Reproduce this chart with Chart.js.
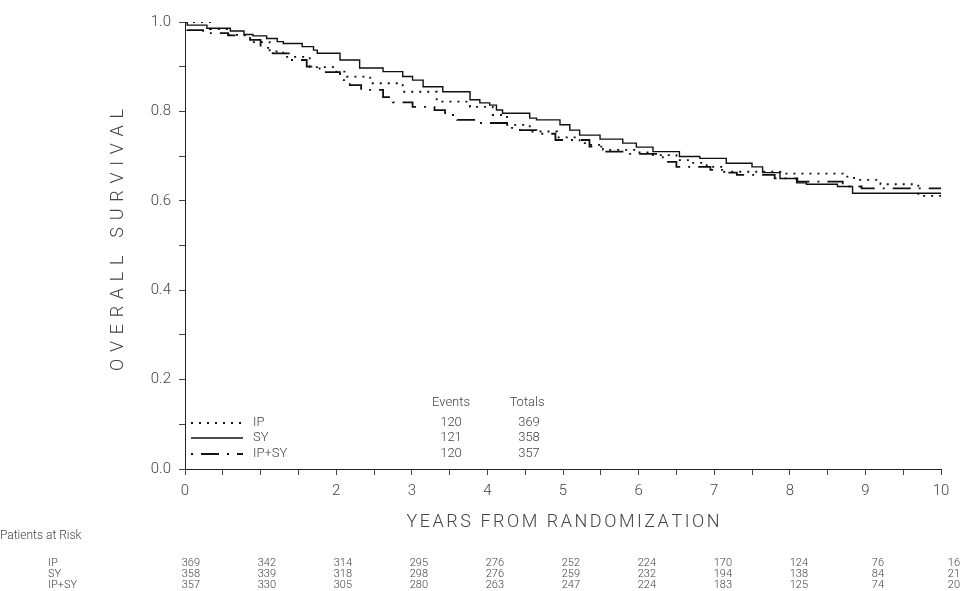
<!DOCTYPE html>
<html>
<head>
<meta charset="utf-8">
<script src="https://cdn.jsdelivr.net/npm/chart.js@4/dist/chart.umd.min.js"></script>
<style>
  html, body { margin: 0; padding: 0; background: #fff; }
  #wrap { width: 968px; height: 591px; }
</style>
</head>
<body>
<div id="wrap"><canvas id="survChart" width="968" height="591"></canvas></div>
<script>
// Kaplan-Meier curves (years, survival)
const ipTime = [0, 0.33, 0.57, 0.86, 1.12, 1.3, 1.65, 1.96, 2.14, 2.45, 2.88, 3.33, 3.77, 4.07, 4.26, 4.56, 4.92, 5.22, 5.35, 5.53, 5.97, 6.19, 6.5, 6.67, 6.9, 7.13, 7.9, 8.7, 8.85, 9.2, 9.7, 10]
const ipSurv = [1.0, 0.984, 0.971, 0.955, 0.934, 0.922, 0.899, 0.889, 0.878, 0.863, 0.844, 0.822, 0.81, 0.792, 0.77, 0.755, 0.742, 0.729, 0.725, 0.714, 0.708, 0.702, 0.691, 0.685, 0.676, 0.665, 0.661, 0.654, 0.647, 0.637, 0.611, 0.611]

const syTime = [0, 0.03, 0.29, 0.6, 0.78, 0.9, 1.08, 1.22, 1.3, 1.55, 1.7, 1.75, 2.05, 2.31, 2.62, 2.88, 3.01, 3.15, 3.41, 3.77, 3.9, 4.03, 4.12, 4.2, 4.56, 4.65, 4.96, 5.09, 5.22, 5.49, 5.79, 5.97, 6.19, 6.54, 6.81, 7.16, 7.5, 7.64, 7.87, 8.09, 8.22, 8.63, 8.83, 10]
const sySurv = [1.0, 0.993, 0.986, 0.98, 0.972, 0.969, 0.963, 0.956, 0.952, 0.945, 0.937, 0.93, 0.915, 0.897, 0.889, 0.878, 0.87, 0.855, 0.844, 0.826, 0.819, 0.814, 0.803, 0.796, 0.785, 0.781, 0.77, 0.758, 0.747, 0.738, 0.729, 0.72, 0.71, 0.699, 0.695, 0.684, 0.676, 0.663, 0.65, 0.64, 0.637, 0.632, 0.617, 0.617]

const ipsyTime = [0, 0.03, 0.24, 0.57, 0.86, 1.0, 1.16, 1.39, 1.61, 1.78, 2.05, 2.18, 2.33, 2.62, 2.75, 3.01, 3.3, 3.44, 3.6, 3.88, 4.3, 4.43, 4.65, 4.9, 5.35, 5.53, 5.8, 6.32, 6.5, 6.95, 7.13, 7.3, 7.8, 8.1, 8.7, 8.95, 10]
const ipsySurv = [1.0, 0.982, 0.975, 0.97, 0.96, 0.942, 0.93, 0.915, 0.9, 0.888, 0.87, 0.859, 0.848, 0.832, 0.82, 0.81, 0.803, 0.792, 0.781, 0.774, 0.763, 0.758, 0.75, 0.736, 0.721, 0.71, 0.705, 0.687, 0.676, 0.669, 0.663, 0.658, 0.65, 0.643, 0.632, 0.628, 0.628]

const groups = ['IP', 'SY', 'IP+SY']
const events = [120, 121, 120]
const totals = [369, 358, 357]

// patients at risk, one column per year 0..10
const riskYears = [0, 1, 2, 3, 4, 5, 6, 7, 8, 9, 10]
const riskIP = [369, 342, 314, 295, 276, 252, 224, 170, 124, 76, 16]
const riskSY = [358, 339, 318, 298, 276, 259, 232, 194, 138, 84, 21]
const riskIPSY = [357, 330, 305, 280, 263, 247, 224, 183, 125, 74, 20]

const X_TITLE = 'YEARS FROM RANDOMIZATION'
const Y_TITLE = 'OVERALL SURVIVAL'

const FONT = '"Roboto", "DejaVu Sans", sans-serif'
const INK = '#444'
const DASHES = [[2, 6], [], [2, 8, 18, 8]]
const WIDTHS = [1.8, 1.4, 1.8]

function pts(t, s) {
    return t.map((v, i) => ({ x: v, y: s[i] }))
}

// draws a string with extra letter spacing so that it spans `len` px
function spacedText(ctx, text, cx, cy, len) {
    const w = [...text].map(c => ctx.measureText(c).width)
    const sum = w.reduce((a, b) => a + b, 0)
    const gap = (len - sum) / (text.length - 1)
    let x = cx - len / 2
    ctx.textAlign = 'left'
    ctx.textBaseline = 'middle'
    ;[...text].forEach((c, i) => {
        ctx.fillText(c, x, cy)
        x += w[i] + gap
    })
}

const extras = {
    id: 'extras',
    afterDraw(chart) {
        const ctx = chart.ctx
        const xs = chart.scales.x
        const area = chart.chartArea
        ctx.save()
        ctx.fillStyle = INK

        // axis titles
        ctx.font = '300 18px ' + FONT
        spacedText(ctx, X_TITLE, 563, 522, 313)
        ctx.save()
        ctx.translate(118, 240)
        ctx.rotate(-Math.PI / 2)
        spacedText(ctx, Y_TITLE, 0, 0, 262)
        ctx.restore()

        // legend with events / totals
        const rowsY = [423, 438, 454]
        ctx.font = '300 13px ' + FONT
        ctx.textBaseline = 'middle'
        ctx.textAlign = 'center'
        ctx.fillText('Events', 451, 403)
        ctx.fillText('Totals', 527, 403)
        groups.forEach((g, i) => {
            const y = rowsY[i]
            ctx.save()
            ctx.strokeStyle = '#111'
            ctx.lineWidth = WIDTHS[i]
            ctx.setLineDash(DASHES[i])
            ctx.beginPath()
            ctx.moveTo(area.left + 6, y)
            ctx.lineTo(area.left + 58, y)
            ctx.stroke()
            ctx.restore()
            ctx.textAlign = 'left'
            ctx.fillText(g, area.left + 68, y)
            ctx.textAlign = 'center'
            ctx.fillText(String(events[i]), 451, y)
            ctx.fillText(String(totals[i]), 529, y)
        })

        // patients at risk table
        ctx.font = '300 12px ' + FONT
        ctx.textAlign = 'left'
        ctx.fillText('Patients at Risk', 0, 536)
        const tableRows = [riskIP, riskSY, riskIPSY]
        const tableY = [563, 574, 585]
        ctx.font = '300 11px ' + FONT
        tableRows.forEach((row, r) => {
            ctx.textAlign = 'left'
            ctx.fillText(groups[r], 48, tableY[r])
            ctx.textAlign = 'right'
            row.forEach((n, i) => {
                ctx.fillText(String(n), xs.getPixelForValue(riskYears[i]) + 15 + i * 0.4, tableY[r])
            })
        })
        ctx.restore()
    }
}

const survChart = new Chart(document.getElementById('survChart'), {
    type: 'line',
    data: {
        datasets: [
            {
                label: 'IP',
                data: pts(ipTime, ipSurv),
                borderColor: '#111',
                borderWidth: WIDTHS[0],
                borderDash: DASHES[0],
                stepped: 'before',
                pointRadius: 0,
                fill: false
            },
            {
                label: 'SY',
                data: pts(syTime, sySurv),
                borderColor: '#111',
                borderWidth: WIDTHS[1],
                stepped: 'before',
                pointRadius: 0,
                fill: false
            },
            {
                label: 'IP+SY',
                data: pts(ipsyTime, ipsySurv),
                borderColor: '#111',
                borderWidth: WIDTHS[2],
                borderDash: DASHES[2],
                stepped: 'before',
                pointRadius: 0,
                fill: false
            }
        ]
    },
    options: {
        responsive: false,
        animation: false,
        layout: { padding: { left: 0, right: 27, top: 22, bottom: 0 } },
        plugins: {
            legend: { display: false },
            tooltip: { enabled: false },
            title: { display: false }
        },
        scales: {
            x: {
                type: 'linear',
                min: 0,
                max: 10,
                afterFit: function (scale) { scale.height = 122 },
                border: { display: true, color: '#222', width: 1 },
                grid: { drawOnChartArea: false, tickLength: 6, tickColor: '#444' },
                ticks: {
                    stepSize: 0.5,
                    autoSkip: false,
                    maxRotation: 0,
                    padding: 7,
                    color: INK,
                    font: { family: FONT, size: 15, weight: '300' },
                    callback: function (v) {
                        if (v % 1 !== 0 || v === 1) return ''
                        return String(v)
                    }
                }
            },
            y: {
                min: 0,
                max: 1,
                afterFit: function (scale) { scale.width = 185 },
                border: { display: true, color: '#222', width: 1 },
                grid: { drawOnChartArea: false, tickLength: 6, tickColor: '#444' },
                ticks: {
                    stepSize: 0.1,
                    autoSkip: false,
                    padding: 8,
                    color: INK,
                    font: { family: FONT, size: 15, weight: '300' },
                    callback: function (v) {
                        const k = Math.round(v * 10)
                        return k % 2 === 0 ? (k / 10).toFixed(1) : ''
                    }
                }
            }
        }
    },
    plugins: [extras]
})
</script>
</body>
</html>
